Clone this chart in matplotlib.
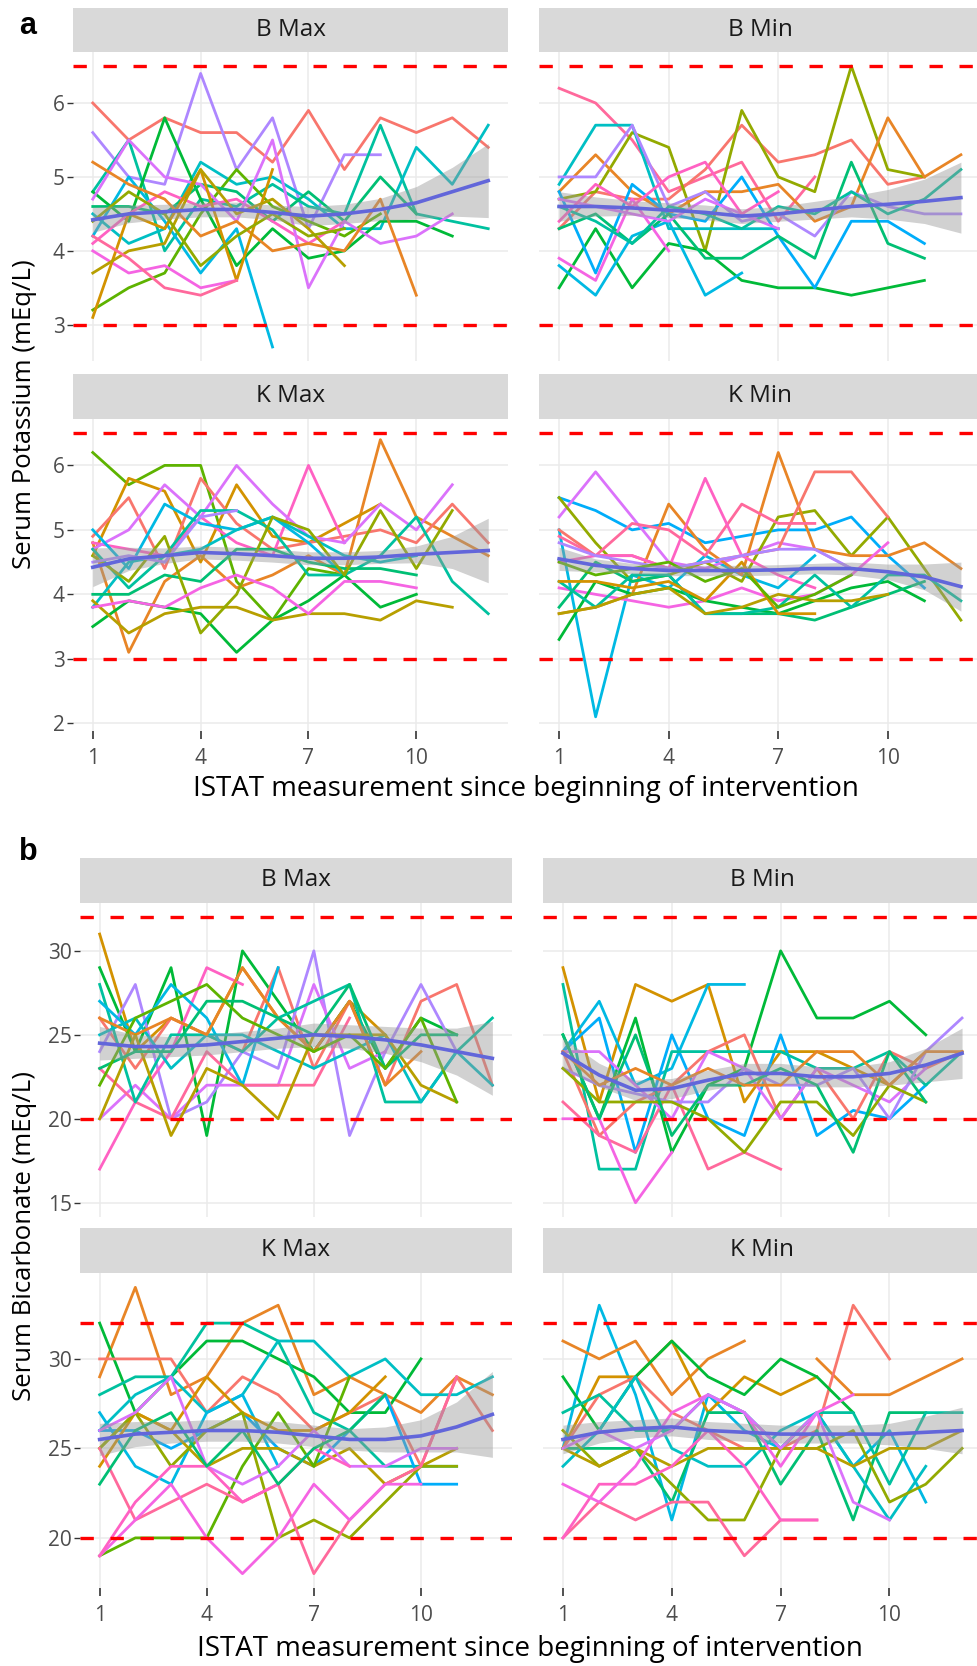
import numpy as np
import matplotlib
matplotlib.use("Agg")
import matplotlib.pyplot as plt
from matplotlib.ticker import MultipleLocator

plt.rcParams['font.family'] = ['Open Sans', 'DejaVu Sans']

W, H = 977, 1666
nan = np.nan

# ---- data: one line per patient, value at ISTAT measurement 1, 2, 3, ...
# (keys are patient numbers, they pick the colour)
# a) serum potassium
k_bmax = {
    0: [6.0, 5.5, 5.8, 5.6, 5.6, 5.2, 5.9, 5.1, 5.8, 5.6, 5.8, 5.4],
    13: [5.6, 5.0, 4.9, 6.4, 5.1, 5.8, 4.3, 5.3, 5.3],
    8: [4.8, 5.5, 4.0, 4.7, 4.6, 4.9, 4.6, 4.5, 5.7, 4.5, 4.4, 4.3],
    10: [4.2, 5.0, 4.4, 3.7, 4.3, 2.7],
    9: [4.5, 4.1, 4.3, 5.2, 4.9, 5.0, 4.7, 4.3, 4.3, 5.4, 4.9, 5.7],
    6: [4.8, 4.4, 5.8, 4.7, 3.8, 4.3, 3.9, 4.0, 4.4, 4.4, 4.2],
    5: [3.2, 3.5, 3.7, 4.5, 5.1, 4.6, 4.4, 4.2, 4.5],
    7: [4.6, 4.6, 4.5, 4.9, 4.8, 4.4, 4.8, 4.4, 5.0, 4.5],
    15: [4.0, 3.7, 3.8, 3.5, 3.6],
    16: [4.1, 4.5, 4.8, 4.6, 4.7, 4.4, 4.1, 4.4],
    14: [4.7, 5.5, 5.0, 4.9, 4.4, 5.5, 3.5, 4.4, 4.1, 4.2, 4.5],
    1: [5.2, 4.9, 4.7, 4.2, 4.4, 4.0, 4.1, 4.0, 4.7, 3.4],
    2: [3.1, 4.5, 4.3, 5.1, 3.6, 5.1],
    3: [3.7, 4.0, 4.1, 5.1, 4.5, 4.7, 4.3, 3.8],
    4: [4.4, 4.8, 4.5, 3.8, 4.2, 4.5, 4.2, 4.3],
    17: [4.2, 3.9, 3.5, 3.4, 3.6],
}
k_bmin = {
    17: [6.2, 6.0, 5.5, 4.8, 5.0, 5.2, 4.4, 5.0],
    0: [4.3, 4.8, 4.7, 4.7, 5.1, 5.7, 5.2, 5.3, 5.5, 4.9, 5.0],
    4: [4.7, 4.8, 5.6, 5.4, 4.0, 5.9, 5.0, 4.8, 6.5, 5.1, 5.0],
    1: [4.8, 5.3, 4.8, 4.5, 4.8, 4.8, 4.9, 4.4, 4.6, 5.8, 5.0, 5.3],
    9: [4.9, 5.7, 5.7, 4.3, 4.3, 4.3, 4.3],
    13: [5.0, 5.0, 5.7, 4.6, 4.8, 4.4, 4.5, 4.2, 4.8, 4.6, 4.5, 4.5],
    6: [3.5, 4.3, 3.5, 4.1, 4.0, 3.6, 3.5, 3.5, 3.4, 3.5, 3.6],
    10: [3.8, 3.4, 4.2, 4.4, 3.4, 3.7],
    11: [4.8, 3.7, 4.9, 4.5, 4.4, 5.0, 4.2, 3.5, 4.4, 4.4, 4.1],
    7: [4.3, 4.5, 4.1, 4.5, 3.9, 3.9, 4.2, 3.9, 5.2, 4.1, 3.9],
    15: [3.9, 3.6, 4.7, 4.0],
    8: [4.6, 4.4, 4.1, 4.6, 4.5, 4.3, 4.6, 4.5, 4.8, 4.5, 4.7, 5.1],
    14: [4.7, 4.6, 4.5, 4.4, 4.7, 4.5, 4.3],
    16: [4.4, 4.9, 4.6, 5.0, 5.2, 4.5, 4.8],
}
k_kmax = {
    5: [6.2, 5.7, 6.0, 6.0, 4.2, 3.6, 4.4, 4.3],
    1: [4.8, 3.1, 4.2, 4.6, 4.1, 4.3, 4.6, 4.3, 6.4, 5.2, 4.9, 4.6],
    2: [4.6, 5.8, 5.6, 4.5, 5.7, 4.9, 4.8, 5.1, 5.4],
    0: [4.9, 5.5, 4.4, 5.8, 5.1, 4.7, 4.8, 4.9, 5.0, 4.8, 5.4, 4.8],
    16: [4.8, 4.7, 4.6, 5.2, 4.8, 4.6, 6.0, 4.8],
    14: [4.7, 5.0, 5.7, 5.2, 6.0, 5.4, 4.9, 4.8, 5.4, 5.0, 5.7],
    10: [5.0, 4.4, 5.4, 5.1, 5.0, 5.2, 4.8, 4.3],
    9: [3.8, 4.5, 4.6, 4.7, 5.0, 5.2, 4.9, 4.6, 4.5, 4.6],
    8: [4.7, 4.1, 4.6, 5.3, 5.3, 5.0, 4.3, 4.3, 4.6, 5.2, 4.2, 3.7],
    6: [3.5, 3.9, 3.8, 3.7, 3.1, 3.6, 3.9, 4.3, 3.8, 4.0],
    7: [4.0, 4.0, 4.3, 4.2, 4.7, 4.7, 4.5, 4.4, 4.4, 4.3],
    3: [3.9, 3.4, 3.7, 3.8, 3.8, 3.6, 3.7, 3.7, 3.6, 3.9, 3.8],
    4: [4.6, 4.2, 4.9, 3.4, 4.0, 5.2, 5.0, 4.3, 5.3, 4.4, 5.3],
    15: [3.8, 3.9, 3.8, 4.1, 4.3, 4.1, 3.7, 4.2, 4.2, 4.1],
    13: [4.5, 4.6, 4.5, 5.2, 5.3],
}
k_kmin = {
    10: [5.0, 2.1, 4.3, 4.1, 4.6, 4.3, 4.1, 4.6],
    11: [5.5, 5.3, 5.0, 5.1, 4.8, 4.9, 5.0, 5.0, 5.2, 4.6, 4.1],
    14: [5.2, 5.9, 5.2, 4.5, 4.4, 4.6, 4.8, 4.7, 4.4],
    4: [5.5, 4.8, 4.2, 4.3, 4.5, 4.2, 5.2, 5.3, 4.6, 5.2, 4.4, 3.6],
    1: [3.7, 3.8, 4.0, 5.4, 4.7, 4.3, 6.2, 4.7, 4.6, 4.6, 4.8, 4.4],
    0: [5.0, 4.6, 4.6, 4.4, 4.5, 4.6, 4.7, 5.9, 5.9, 5.2],
    17: [4.9, 4.6, 5.1, 5.0, 4.6, 5.4, 5.1, 5.1],
    16: [4.5, 4.6, 4.6, 4.4, 5.8, 4.6, 4.3, 4.1],
    15: [4.1, 4.0, 3.9, 3.8, 3.9, 4.1, 3.9, 4.0, 4.3, 4.8],
    6: [3.3, 4.2, 4.0, 4.1, 3.9, 3.8, 3.7, 3.9, 4.1, 4.2, 3.9],
    7: [3.8, 4.5, 4.2, 4.3, 3.7, 3.7, 3.7, 3.6, 3.8, 4.0, 4.2],
    8: [4.2, 3.8, 4.3, 4.3, 3.7, 3.7, 3.8, 4.3, 3.8, 4.3, 4.3, 3.9],
    3: [3.7, 3.8, 4.0, 4.1, 3.7, 3.8, 4.0, 3.9, 3.9, 4.0],
    2: [4.2, 4.2, 4.1, 4.2, 3.9, 4.5, 3.7, 3.7],
    13: [4.8, 4.6, 4.5, 4.4, 4.5, 4.6, 4.7, 4.7, 4.4],
    5: [4.5, 4.3, 4.4, 4.5, 4.2, 4.4, 3.8, 4.0, 4.3],
}

# b) serum bicarbonate
b_bmax = {
    2: [31, 24, 26, 25, 29, 26, 24, 27, 25],
    6: [29, 24, 29, 19, 30, 27, 24, 27, 23, 26, 25],
    0: [26, 23, 26, 25, 24, 29, 23, 27, 22, 27, 28, 22],
    13: [24, 28, 20, 21, 24, 23, 30, 19, 24, 28, 24],
    14: [20, 22, 20, 22, 22, 22, 28, 23, 24],
    16: [17, 21, 24, 29, 28],
    17: [23, 21, 20, 24, 22, 22, 22, 26],
    8: [28, 21, 25, 25, 24, 26, 27, 28, 21, 21, 24, 26],
    10: [27, 25, 28, 26, 22, 29],
    9: [25, 26, 23, 25, 25, 24, 23, 24, 25, 21, 24, 22],
    1: [26, 25, 26, 25, 29, 26, 24, 27, 22, 24],
    3: [20, 25, 19, 23, 22, 20, 25, 25, 25, 22, 21],
    7: [23, 24, 24, 27, 27, 26, 25, 28, 23, 25, 25],
    5: [22, 26, 27, 28, 26, 25, 24, 25, 23, 26, 21],
}
b_bmin = {
    2: [29, 21, 28, 27, 28, 21, 24, 24, 23, 22, 24],
    10: [24, 27, 22, 23, 28, 28],
    11: [24, 26, 18, 25, 20, 19, 25, 19, 20.5, 20, 22],
    6: [25, 20, 26, 18, 22, 23, 30, 26, 26, 27, 25],
    8: [28, 17, 17, 24, 24, 24, 24, 23, 23, 24, 22, 24],
    0: [24, 19, 21, 22, 24, 25, 20, 23, 20, 24, 23, 24],
    17: [21, 19, 18, 22, 17, 18, 17],
    15: [20, 20, 15, 18],
    14: [24, 24, 22, 20, 24, 23, 20, 23, 22, 21, 23],
    13: [23, 22, 21.5, 21, 21, 23, 22, 22, 23, 20, 24, 26],
    4: [23, 21, 21, 21, 20, 18, 21, 21, 19, 22, 21],
    7: [25, 20, 25, 19, 22, 22, 23, 22, 18, 24, 21],
    1: [24, 22, 23, 22, 23, 22, 22, 24, 24, 22, 24, 24],
}
b_kmax = {
    1: [29, 34, 28, 29, 32, 33, 28, 29, 28, 27, 29, 28],
    6: [32, 27, 29, 31, 31, 30, 29, 27, 27, 30],
    0: [30, 30, 30, 27, 29, 28, 26, 27, 28, 24, 29, 26],
    8: [28, 29, 29, 32, 32, 31, 27, 26, 24, 24, 24],
    9: [26, 28, 29, 27, 28, 31, 31, 29, 30, 28, 28, 29],
    10: [27, 24, 23, 27, 28, 24],
    11: [26, 26, 25, 26, 27, 25, 24, 26, 28, 23, 23],
    3: [25, 27, 26, 24, 25, 25, 24, 25, 23, 24, 25],
    2: [24, 27, 26, 29, 27, 26, 26, 27, 29],
    4: [25, 27, 24, 26, 27, 20, 21, 20, 22, 24, 24],
    5: [19, 20, 20, 20, 24, 27, 24, 29],
    17: [25, 21, 22, 23, 22, 23, 18, 21, 23, 24, 29],
    15: [19, 21, 23, 20, 18, 20, 23, 21, 23, 23],
    14: [26, 27, 29, 24, 23, 24, 26, 24, 24, 25, 25],
    16: [19, 22, 24, 24, 22, 23, 25, 24],
    7: [23, 26, 27, 24, 26, 23, 25, 26, 28],
}
b_kmin = {
    10: [25, 33, 28, 21, 28, 26, 25, 27, 24, 26, 22],
    1: [31, 30, 31, 28, 30, 31, nan, 30, 28, 28, 29, 30],
    2: [25, 29, 29, 31, 27, 29, 28, 29],
    0: [25, 28, 29, 27, 26, 25, 25, 26, 33, 30],
    6: [29, 26, 29, 31, 29, 28, 30, 29, 27],
    7: [25, 25, 25, 22, 27, 27, 23, 26, 21, 27, 27],
    8: [27, 28, 26, 26, 28, 27, 25, 27, 27, 23, 27, 27],
    9: [24, 26, 29, 25, 24, 24, 26, 27, 24, 21, 24],
    4: [26, 24, 25, 23, 21, 21, 25, 25, 26, 22, 23, 25],
    3: [25, 24, 25, 24, 25, 25, 25, 25, 24, 25, 25, 26],
    17: [20, 22, 21, 22, 22, 19, 21, 21],
    16: [20, 23, 23, 24, 26, 24, 21, 21],
    15: [23, 22, 24, 27, 28, 27, 24, 27, 28],
    14: [25, 26, 25, 26, 28, 27, 25, 27, 22, 21],
}

# loess fit and its half confidence band, read at measurement 1..12
k_bmax_fit = [4.42, 4.50, 4.53, 4.56, 4.56, 4.52, 4.47, 4.50, 4.56, 4.65, 4.80, 4.95]
k_bmax_se = [0.17, 0.12, 0.10, 0.10, 0.10, 0.10, 0.13, 0.13, 0.15, 0.22, 0.33, 0.50]
k_bmin_fit = [4.60, 4.60, 4.58, 4.55, 4.52, 4.47, 4.50, 4.55, 4.60, 4.63, 4.67, 4.72]
k_bmin_se = [0.20, 0.13, 0.10, 0.10, 0.10, 0.10, 0.10, 0.12, 0.14, 0.20, 0.30, 0.48]
k_kmax_fit = [4.42, 4.55, 4.60, 4.65, 4.63, 4.60, 4.56, 4.56, 4.58, 4.62, 4.65, 4.68]
k_kmax_se = [0.30, 0.18, 0.12, 0.10, 0.10, 0.10, 0.10, 0.10, 0.10, 0.13, 0.25, 0.50]
k_kmin_fit = [4.55, 4.45, 4.40, 4.37, 4.37, 4.37, 4.38, 4.40, 4.40, 4.35, 4.27, 4.12]
k_kmin_se = [0.18, 0.10, 0.08, 0.08, 0.08, 0.08, 0.08, 0.08, 0.10, 0.12, 0.20, 0.38]
b_bmax_fit = [24.5, 24.3, 24.3, 24.4, 24.6, 24.8, 25.0, 24.9, 24.7, 24.4, 24.0, 23.6]
b_bmax_se = [1.0, 0.7, 0.6, 0.6, 0.6, 0.6, 0.7, 0.7, 0.8, 1.0, 1.4, 2.2]
b_bmin_fit = [23.9, 22.6, 21.7, 21.8, 22.3, 22.7, 22.7, 22.5, 22.5, 22.7, 23.2, 23.9]
b_bmin_se = [0.9, 0.7, 0.6, 0.6, 0.6, 0.6, 0.6, 0.6, 0.6, 0.7, 1.0, 1.5]
b_kmax_fit = [25.5, 25.8, 25.9, 26.0, 26.0, 25.9, 25.7, 25.5, 25.5, 25.7, 26.2, 26.9]
b_kmax_se = [0.9, 0.7, 0.6, 0.6, 0.6, 0.6, 0.6, 0.6, 0.7, 0.9, 1.4, 2.4]
b_kmin_fit = [25.5, 25.9, 26.1, 26.2, 26.0, 25.9, 25.8, 25.8, 25.8, 25.8, 25.9, 26.0]
b_kmin_se = [0.8, 0.6, 0.5, 0.5, 0.5, 0.5, 0.5, 0.5, 0.5, 0.6, 0.9, 1.3]

facet_names = ["B Max", "B Min", "K Max", "K Min"]
x_ticks = [1, 4, 7, 10]
k_limits = [3.0, 6.5]
b_limits = [20, 32]
n_patients = 18


def hue_pal(n, l=65, c=100):
    # ggplot2 default hue palette (HCL -> sRGB)
    xn, yn, zn = 95.047, 100.0, 108.883
    un = 4 * xn / (xn + 15 * yn + 3 * zn)
    vn = 9 * yn / (xn + 15 * yn + 3 * zn)
    m = np.array([[3.2406, -1.5372, -0.4986],
                  [-0.9689, 1.8758, 0.0415],
                  [0.0557, -0.2040, 1.0570]])
    cols = []
    for h in np.linspace(15, 375, n + 1)[:-1]:
        u = c * np.cos(np.radians(h))
        v = c * np.sin(np.radians(h))
        y = yn * ((l + 16) / 116) ** 3
        up = u / (13 * l) + un
        vp = v / (13 * l) + vn
        x = y * 9 * up / (4 * vp)
        z = y * (12 - 3 * up - 20 * vp) / (4 * vp)
        rgb = m @ (np.array([x, y, z]) / 100)
        rgb = np.clip(rgb, 0, 1)
        rgb = np.where(rgb <= 0.0031308, 12.92 * rgb, 1.055 * rgb ** (1 / 2.4) - 0.055)
        cols.append(tuple(np.clip(rgb, 0, 1)))
    return cols


pal = hue_pal(n_patients)

fig = plt.figure(figsize=(W / 100, H / 100), dpi=100)


def add_box(l, t, r, b):
    return fig.add_axes([l / W, 1 - b / H, (r - l) / W, (b - t) / H])


def y_range(groups, refs):
    vals = [v for g in groups for s in g.values() for v in s if not np.isnan(v)]
    lo, hi = min(vals + refs), max(vals + refs)
    pad = 0.05 * (hi - lo)
    return lo - pad, hi + pad


def draw_block(facets, fits, refs, step, cols, rows, strip_tops):
    for i, (data, (fit, se)) in enumerate(zip(facets, fits)):
        r, c = divmod(i, 2)
        l, rr = cols[c]
        t, b = rows[r]
        ax = add_box(l, t, rr, b)
        for pid, vals in data.items():
            xs = np.arange(1, len(vals) + 1)
            ax.plot(xs, vals, color=pal[pid], lw=2.0, zorder=2)
        xf = np.arange(1, len(fit) + 1)
        fit = np.array(fit)
        se = np.array(se)
        ax.fill_between(xf, fit - se, fit + se, color='#999999', alpha=0.45, lw=0, zorder=3)
        ax.plot(xf, fit, color='#6266DA', lw=2.6, zorder=4)
        for v in refs:
            ax.axhline(v, color='red', lw=2.4, dashes=(4, 5), zorder=5)
        row_data = facets[2 * r:2 * r + 2]
        ax.set_ylim(*y_range(row_data, refs))
        ax.set_xlim(0.45, 12.55)
        ax.set_xticks(x_ticks)
        ax.yaxis.set_major_locator(MultipleLocator(step))
        ax.grid(color='#EBEBEB', lw=1.1)
        ax.set_axisbelow(True)
        for sp in ax.spines.values():
            sp.set_visible(False)
        ax.tick_params(axis='y', length=4, width=1, color='#333333', labelsize=15,
                       labelcolor='#4D4D4D', pad=2)
        ax.tick_params(axis='x', length=6, width=1.2, color='#333333', labelsize=15,
                       labelcolor='#4D4D4D', pad=6)
        if c == 1:
            ax.tick_params(left=False, labelleft=False)
        if r == 0:
            ax.tick_params(bottom=False, labelbottom=False)

        s = add_box(l, strip_tops[r], rr, t)
        s.set_facecolor('#D9D9D9')
        s.set_xticks([])
        s.set_yticks([])
        for sp in s.spines.values():
            sp.set_visible(False)
        s.text(0.5, 0.5, facet_names[i], ha='center', va='center',
               fontsize=17.5, color='#1A1A1A', transform=s.transAxes)


k_facets = [k_bmax, k_bmin, k_kmax, k_kmin]
k_fits = [(k_bmax_fit, k_bmax_se), (k_bmin_fit, k_bmin_se),
          (k_kmax_fit, k_kmax_se), (k_kmin_fit, k_kmin_se)]
b_facets = [b_bmax, b_bmin, b_kmax, b_kmin]
b_fits = [(b_bmax_fit, b_bmax_se), (b_bmin_fit, b_bmin_se),
          (b_kmax_fit, b_kmax_se), (b_kmin_fit, b_kmin_se)]

draw_block(k_facets, k_fits, k_limits, 1,
           cols=[(73, 508), (539, 981)], rows=[(52, 361), (419, 731)],
           strip_tops=[8, 374])
draw_block(b_facets, b_fits, b_limits, 5,
           cols=[(80, 512), (543, 982)], rows=[(903, 1217), (1273, 1588)],
           strip_tops=[858, 1228])

# titles and panel letters
xlab = "ISTAT measurement since beginning of intervention"
fig.text(526 / W, 1 - 789 / H, xlab, ha='center', va='center', fontsize=20)
fig.text(530 / W, 1 - 1649 / H, xlab, ha='center', va='center', fontsize=20)
fig.text(25 / W, 1 - 414 / H, "Serum Potassium (mEq/L)", rotation=90,
         ha='center', va='center', fontsize=18.5)
fig.text(25 / W, 1 - 1236 / H, "Serum Bicarbonate (mEq/L)", rotation=90,
         ha='center', va='center', fontsize=18.5)
fig.text(28 / W, 1 - 26 / H, "a", ha='center', va='center', fontsize=22,
         fontweight='bold', family='Liberation Sans')
fig.text(28 / W, 1 - 852 / H, "b", ha='center', va='center', fontsize=22,
         fontweight='bold', family='Liberation Sans')

fig.savefig("out.png", dpi=100)
